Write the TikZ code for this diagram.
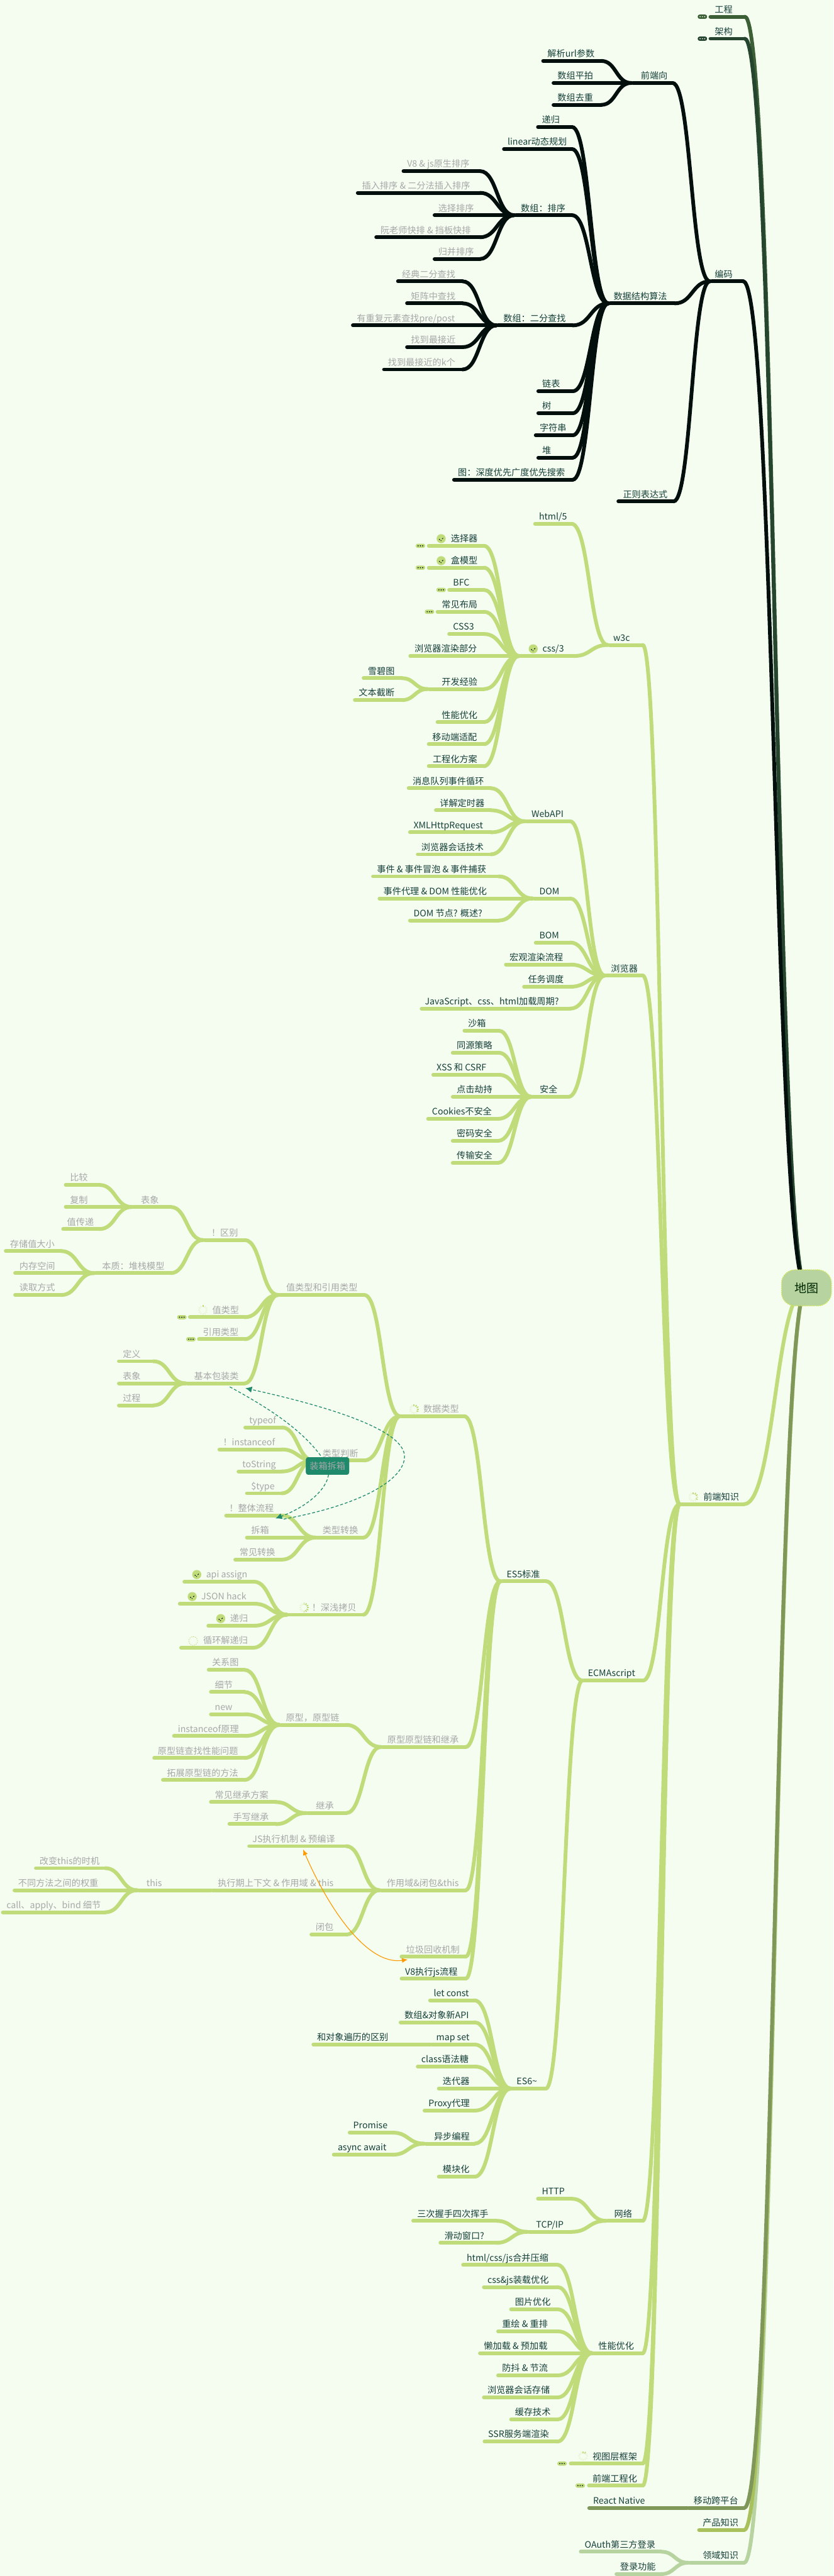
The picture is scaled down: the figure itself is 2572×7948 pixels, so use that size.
\documentclass[tikz,border=0pt]{standalone}
\usepackage{fontspec}
\setmainfont{Noto Sans CJK SC}
\usetikzlibrary{arrows.meta,backgrounds,calc}

\definecolor{mapback}{HTML}{F4FDF0}
\definecolor{inkline}{HTML}{020F0C}
\definecolor{limeline}{HTML}{BFDB7A}
\definecolor{engline}{HTML}{3C5F36}
\definecolor{archline}{HTML}{26452F}
\definecolor{oliveline}{HTML}{7F9758}
\definecolor{productline}{HTML}{A8C15C}
\definecolor{domainline}{HTML}{B6D3A0}
\definecolor{darktext}{HTML}{17403A}
\definecolor{doneText}{HTML}{A8A8A8}
\definecolor{relgreen}{HTML}{1E8A6B}
\definecolor{relorange}{HTML}{FF9900}

\tikzset{
  topic/.style={anchor=south west, inner xsep=0pt, inner ysep=12pt, outer sep=0pt, text depth=0pt,
    font=\fontsize{27.5}{30}\selectfont},
  topicline/.style={line width=11.5pt, line cap=round},
  rootbox/.style={draw=limeline!70!yellow, dashed, line width=3pt, fill=domainline, rounded corners=42pt,
    minimum width=154pt, minimum height=111pt, text=black!85!green, font=\fontsize{37}{40}\selectfont},
  tagbox/.style={fill=relgreen, rounded corners=7pt, minimum width=133pt, minimum height=54pt, inner sep=0pt,
    text=doneText, font=\fontsize{27.5}{30}\selectfont},
  foldpill/.style={rounded corners=6pt, minimum width=29pt, minimum height=13pt, inner sep=0pt},
  donebadge/.style={circle, fill=limeline, minimum size=28pt, inner sep=0pt},
  spinbadge/.style={circle, minimum size=28pt, inner sep=0pt},
  ticklet/.style={line width=2pt, inkline},
  relgreenline/.style={relgreen, line width=2.4pt, dash pattern=on 9pt off 6pt, -{Latex[length=20pt,width=19pt]}},
  relorangeline/.style={relorange, line width=2.2pt, {Latex[length=18pt,width=15pt]}-{Latex[length=18pt,width=15pt]}}
}

\newcommand{\placetopics}[3]{
  \foreach \nm/\xl/\xr/\yy/\tx/\txt in {#3}{
    \pgfmathsetmacro{\bw}{\xr-\xl}
    \pgfmathsetmacro{\gap}{\tx-\xl}
    \node[topic, text=#2, minimum width=\bw pt] (\nm) at (\xl,\yy) {\makebox[\bw pt][l]{\hspace*{\gap pt}\txt}};
    \begin{pgfonlayer}{background}
      \draw[topicline, #1] ([xshift=5.75pt]\nm.south west) -- (\nm.south east);
    \end{pgfonlayer}
  }
}
\newcommand{\linktopics}[2]{
  \begin{pgfonlayer}{background}
    \foreach \ch/\pa in {#2}{
      \draw[topicline, #1] let \p1=(\ch.south east), \p2=(\pa.south west) in
        (\p1) .. controls ({0.5*(\x1+\x2)},\y1) and ({0.5*(\x1+\x2)},\y2) .. (\p2);
    }
  \end{pgfonlayer}
}
\newcommand{\foldmark}[5]{
  \node[foldpill, fill=#4] (#1) at (#2,#3) {};
  \foreach \d in {-7,0,7}{
    \fill[#5] ([xshift=\d pt]#1.center) circle (1.9);
  }
}
\newcommand{\donemark}[3]{
  \node[donebadge] (#1) at (#2,#3) {};
  \draw[ticklet] ([shift={(-6,1)}]#1.center) -- ([shift={(-4,4)}]#1.center);
  \draw[ticklet] ([shift={(-1,5)}]#1.center) -- ([shift={(0,7)}]#1.center);
  \draw[ticklet] ([shift={(3,1)}]#1.center) -- ([shift={(6,-2)}]#1.center);
}
\newcommand{\spinmark}[4]{
  \node[spinbadge] (#1) at (#2,#3) {};
  \foreach \k in {1,...,12}{
    \pgfmathsetmacro{\ang}{-90+30*(\k-1)}
    \pgfmathsetmacro{\op}{\k>#4 ? 0.2 : 1}
    \draw[limeline, line width=3.5pt, opacity=\op] ([shift={(\ang:9)}]#1.center) -- ([shift={(\ang:15)}]#1.center);
  }
}

\begin{document}
\begin{tikzpicture}[x=1pt,y=-1pt]
  \useasboundingbox (0,0) rectangle (2572,7948);
  \begin{pgfonlayer}{background}
    \fill[mapback] (0,0) rectangle (2572,7948);
  \end{pgfonlayer}

  \node[rootbox] (root) at (2488,3973.5) {地图};
  \node[inner sep=0pt, minimum size=0pt] (rootjoin) at (2488,3973.5) {};

  \placetopics{engline}{darktext}{eng/2186/2298/51.5/2205/工程}
  \placetopics{archline}{darktext}{archi/2186/2298/119.4/2205/架构}
  \linktopics{engline}{eng/rootjoin}
  \linktopics{archline}{archi/rootjoin}

  \placetopics{inkline}{darktext}{
    coding/2190/2293/868/2205/编码,
    algo/1877/2082/936/1893/数据结构算法,
    regex/1902/2078/1547/1922/正则表达式,
    feDir/1947/2075/256/1977/前端向,
    parseUrl/1670/1855/188/1689/解析url参数,
    flatArr/1702/1855/256/1720/数组平拍,
    uniqArr/1702/1855/323.5/1720/数组去重,
    recur/1654/1765/392/1672/递归,
    linDp/1549/1765/460/1566/linear动态规划,
    sortArr/1586/1765/664/1607/数组：排序,
    binArr/1531/1767/1004/1553/数组：二分查找,
    list/1655/1767/1207/1673/链表,
    tree/1655/1767/1275/1673/树,
    strs/1647/1767/1343/1665/字符串,
    heap/1655/1767/1412/1673/堆,
    graph/1395/1767/1480/1413/图：深度优先广度优先搜索}
  \placetopics{inkline}{doneText}{
    v8sort/1239/1481/528/1256/V8 \& js原生排序,
    insSort/1098/1481/595/1117/插入排序 \& 二分法插入排序,
    selSort/1335/1481/664/1352/选择排序,
    quickSort/1155/1481/732/1174/阮老师快排 \& 挡板快排,
    mergeSort/1335/1481/799/1352/归并排序,
    binBasic/1222/1427/868/1240/经典二分查找,
    binMatrix/1250/1427/936/1268/矩阵中查找,
    binDup/1083/1427/1004/1101/{有重复元素查找pre/post},
    binNear/1250/1427/1071/1268/找到最接近,
    binNearK/1179/1427/1140/1197/找到最接近的k个}
  \linktopics{inkline}{
    coding/rootjoin, algo/coding, regex/coding, feDir/coding,
    parseUrl/feDir, flatArr/feDir, uniqArr/feDir,
    recur/algo, linDp/algo, sortArr/algo, binArr/algo, list/algo, tree/algo, strs/algo, heap/algo, graph/algo,
    v8sort/sortArr, insSort/sortArr, selSort/sortArr, quickSort/sortArr, mergeSort/sortArr,
    binBasic/binArr, binMatrix/binArr, binDup/binArr, binNear/binArr, binNearK/binArr}

  \placetopics{limeline}{darktext}{
    frontEnd/2097/2295/4641/2170/前端知识,
    w3c/1875/1983/1990/1892/w3c,
    html/1645/1763/1616/1663/{html/5},
    css/1601/1771/2024/1674/{css/3},
    selector/1317/1493/1684/1391/选择器,
    boxModel/1317/1493/1751.5/1391/盒模型,
    bfc/1380/1493/1820/1398/BFC,
    layout/1344/1493/1887.5/1363/常见布局,
    css3/1380/1493/1956/1398/CSS3,
    render/1260/1493/2024/1279/浏览器渲染部分,
    devExp/1319/1493/2126/1363/开发经验,
    sprite/1116/1240/2092.5/1135/雪碧图,
    ellipsis/1089/1240/2160/1107/文本截断,
    cssPerf/1344/1493/2228/1363/性能优化,
    mobile/1317/1493/2296/1334/移动端适配,
    cssEng/1317/1493/2364/1335/工程化方案,
    browser/1866/1983/3010/1885/浏览器,
    webApi/1618/1759/2534/1640/WebAPI,
    evLoop/1255/1514/2432/1273/消息队列事件循环,
    timer/1339/1514/2500/1357/详解定时器,
    xhr/1259/1514/2568/1276/XMLHttpRequest,
    session/1283/1514/2636/1300/浏览器会话技术,
    dom/1643/1759/2772/1664/DOM,
    bubble/1145/1539/2704/1163/事件 \& 事件冒泡 \& 事件捕获,
    delegate/1165/1539/2772/1183/事件代理 \& DOM 性能优化,
    domNode/1259/1539/2840/1276/DOM 节点? 概述?,
    bom/1647/1759/2908/1664/BOM,
    pipeline/1555/1759/2976/1572/宏观渲染流程,
    tasks/1611/1759/3044.5/1629/任务调度,
    loadCycle/1295/1759/3112/1311/JavaScript、css、html加载周期?,
    security/1639/1754/3384/1665/安全,
    sandbox/1427/1539/3180/1444/沙箱,
    sameOrigin/1391/1539/3248/1409/同源策略,
    xss/1331/1539/3316/1347/XSS 和 CSRF,
    clickjack/1391/1536/3384/1409/点击劫持,
    cookie/1315/1536/3452/1333/Cookies不安全,
    pwd/1391/1536/3520/1409/密码安全,
    transfer/1391/1536/3588/1409/传输安全,
    ecma/1797/1984/5185/1814/ECMAscript,
    es5/1544/1685/4879/1563/ES5标准,
    v8run/1233/1437/6105/1250/V8执行js流程,
    es6/1576/1684/6444/1594/ES6\textasciitilde,
    letConst/1321/1464/6172/1338/let const,
    newApi/1230/1464/6239.5/1248/数组\&对象新API,
    mapSet/1327/1464/6308/1346/map set,
    iterDiff/961/1327/6308/978/和对象遍历的区别,
    classSugar/1283/1464/6376/1300/class语法糖,
    iter/1348/1464/6444/1366/迭代器,
    proxy/1304/1464/6512/1322/Proxy代理,
    asyncProg/1308/1464/6614/1339/异步编程,
    promise/1073/1212/6580/1090/Promise,
    asyncAwait/1024/1212/6648/1042/async await,
    module/1348/1464/6716/1366/模块化,
    network/1869/1983/6852/1895/网络,
    http/1654/1764/6784/1672/HTTP,
    tcp/1627/1764/6886/1654/{TCP/IP},
    handshake/1269/1531/6852/1287/三次握手四次挥手,
    slideWin/1353/1531/6920/1371/滑动窗口?,
    perf/1826/1983/7260.5/1846/性能优化,
    merge/1423/1720/6988/1440/{html/css/js合并压缩},
    load/1487/1720/7056.5/1504/css\&js装载优化,
    img/1571/1720/7125/1589/图片优化,
    repaint/1531/1720/7193/1549/重绘 \& 重排,
    lazy/1475/1720/7260.5/1493/懒加载 \& 预加载,
    debounce/1531/1720/7329/1549/防抖 \& 节流,
    storage/1487/1720/7397/1504/浏览器会话存储,
    cacheTech/1571/1720/7465/1589/缓存技术,
    ssr/1489/1720/7533/1506/SSR服务端渲染,
    viewFw/1755/1983/7601/1828/视图层框架,
    feEng/1811/1983/7669/1828/前端工程化}
  \placetopics{limeline}{doneText}{
    dataType/1234/1432/4369.5/1306/数据类型,
    valRef/858/1124/3995.5/883/值类型和引用类型,
    diff/626/755/3826/652/！区别,
    surface/406/527/3724/435/表象,
    cmp/197/307/3656/216/比较,
    copy/197/307/3724/216/复制,
    passVal/189/307/3792/207/值传递,
    nature/290/527/3928/315/本质：堆栈模型,
    storeSize/12/189/3860/31/存储值大小,
    memSpace/41/189/3928/60/内存空间,
    readWay/41/189/3995.5/60/读取方式,
    valType/580/755/4064/655/值类型,
    refType/608/755/4132/626/引用类型,
    wrapper/572/755/4268/599/基本包装类,
    wrapDef/361/473/4200/379/定义,
    wrapLook/361/473/4268/379/表象,
    wrapProc/361/473/4336/379/过程,
    typeCheck/968/1124/4506/995/类型判断,
    typeOf/751/869/4404/769/typeof,
    instOf/671/869/4472/688/！instanceof,
    toStr/730/869/4540/748/toString,
    dollarType/756/869/4607.5/775/\$type,
    typeConv/974/1121/4744/995/类型转换,
    flow/692/869/4676/707/！整体流程,
    unbox/756/869/4744/775/拆箱,
    commonConv/720/869/4812/739/常见转换,
    deepCopy/885/1121/4982/962/！深浅拷贝,
    apiAssign/563/783/4880/636/api assign,
    jsonHack/549/783/4948/621/JSON hack,
    recurCopy/637/783/5016/710/递归,
    loopCopy/553/781/5084/627/循环解递归,
    protoAll/1175/1437/5390/1195/原型原型链和继承,
    proto/862/1068/5322/882/原型，原型链,
    relation/638/754/5152/654/关系图,
    detail/645/754/5220.5/663/细节,
    newOp/645/754/5289/663/new,
    instProto/531/754/5356/549/instanceof原理,
    chainPerf/470/754/5424/487/原型链查找性能问题,
    chainExt/497/754/5492/515/拓展原型链的方法,
    inherit/944/1068/5594/975/继承,
    inhPlan/645/851/5560/663/常见继承方案,
    inhHand/702/851/5628/719/手写继承,
    scopeAll/1171/1437/5832/1193/作用域\&闭包\&this,
    jsExec/763/1068/5696/779/JS执行机制 \& 预编译,
    thisCtx/650/1068/5832/672/执行期上下文 \& 作用域 \& this,
    thisNode/423/640/5832/452/this,
    thisWhen/105/325/5764/122/改变this的时机,
    thisWeight/39/325/5832/56/不同方法之间的权重,
    thisCall/3/325/5900/20/call、apply、bind 细节,
    closure/955/1068/5969/974/闭包,
    gc/1233/1437/6037/1253/垃圾回收机制}
  \linktopics{limeline}{
    frontEnd/rootjoin, w3c/frontEnd, browser/frontEnd, ecma/frontEnd, network/frontEnd, perf/frontEnd, viewFw/frontEnd, feEng/frontEnd,
    html/w3c, css/w3c,
    selector/css, boxModel/css, bfc/css, layout/css, css3/css, render/css, devExp/css, cssPerf/css, mobile/css, cssEng/css,
    sprite/devExp, ellipsis/devExp,
    webApi/browser, dom/browser, bom/browser, pipeline/browser, tasks/browser, loadCycle/browser, security/browser,
    evLoop/webApi, timer/webApi, xhr/webApi, session/webApi,
    bubble/dom, delegate/dom, domNode/dom,
    sandbox/security, sameOrigin/security, xss/security, clickjack/security, cookie/security, pwd/security, transfer/security,
    es5/ecma, es6/ecma,
    dataType/es5, protoAll/es5, scopeAll/es5, gc/es5, v8run/es5,
    valRef/dataType, typeCheck/dataType, typeConv/dataType, deepCopy/dataType,
    diff/valRef, valType/valRef, refType/valRef, wrapper/valRef,
    surface/diff, nature/diff,
    cmp/surface, copy/surface, passVal/surface,
    storeSize/nature, memSpace/nature, readWay/nature,
    wrapDef/wrapper, wrapLook/wrapper, wrapProc/wrapper,
    typeOf/typeCheck, instOf/typeCheck, toStr/typeCheck, dollarType/typeCheck,
    flow/typeConv, unbox/typeConv, commonConv/typeConv,
    apiAssign/deepCopy, jsonHack/deepCopy, recurCopy/deepCopy, loopCopy/deepCopy,
    proto/protoAll, inherit/protoAll,
    relation/proto, detail/proto, newOp/proto, instProto/proto, chainPerf/proto, chainExt/proto,
    inhPlan/inherit, inhHand/inherit,
    jsExec/scopeAll, thisCtx/scopeAll, closure/scopeAll,
    thisNode/thisCtx,
    thisWhen/thisNode, thisWeight/thisNode, thisCall/thisNode,
    letConst/es6, newApi/es6, mapSet/es6, classSugar/es6, iter/es6, proxy/es6, asyncProg/es6, module/es6,
    iterDiff/mapSet,
    promise/asyncProg, asyncAwait/asyncProg,
    http/network, tcp/network,
    handshake/tcp, slideWin/tcp,
    merge/perf, load/perf, img/perf, repaint/perf, lazy/perf, debounce/perf, storage/perf, cacheTech/perf, ssr/perf}

  \placetopics{domainline}{darktext}{
    domain/2123/2296/7907/2168/领域知识,
    oauth/1786/2040/7873/1804/OAuth第三方登录,
    login/1896/2040/7942/1913/登录功能}
  \linktopics{domainline}{domain/rootjoin, oauth/domain, login/domain}
  \placetopics{productline}{darktext}{product/2151/2296/7806/2168/产品知识}
  \linktopics{productline}{product/rootjoin}
  \placetopics{oliveline}{darktext}{
    mobileX/2119/2296/7738/2140/移动跨平台,
    rnative/1812/2119/7738/1830/React Native}
  \linktopics{oliveline}{mobileX/rootjoin, rnative/mobileX}

  \foldmark{foldEng}{2167}{51.5}{engline}{mapback}
  \foldmark{foldArch}{2167}{119.4}{archline}{mapback}
  \foldmark{foldSelector}{1297}{1684}{limeline}{inkline}
  \foldmark{foldBox}{1297}{1751.5}{limeline}{inkline}
  \foldmark{foldBfc}{1361}{1820}{limeline}{inkline}
  \foldmark{foldLayout}{1325}{1887.5}{limeline}{inkline}
  \foldmark{foldVal}{561}{4064}{limeline}{inkline}
  \foldmark{foldRef}{589}{4132}{limeline}{inkline}
  \foldmark{foldView}{1734}{7601}{limeline}{inkline}
  \foldmark{foldEng2}{1790}{7669}{limeline}{inkline}

  \donemark{doneSelector}{1361}{1662}
  \donemark{doneBox}{1361}{1730}
  \donemark{doneCss}{1645}{2002}
  \donemark{doneAssign}{607}{4858}
  \donemark{doneJson}{593}{4926}
  \donemark{doneRecur}{681}{4994}

  \spinmark{spinFront}{2139}{4619}{5}
  \spinmark{spinData}{1277.5}{4348}{5}
  \spinmark{spinVal}{626}{4042}{1}
  \spinmark{spinDeep}{938}{4960}{7}
  \spinmark{spinView}{1799}{7578}{2}
  \node[circle, draw=limeline, dashed, line width=1.5pt, minimum size=27pt, inner sep=0pt] (loopmark) at (596,5063) {};

  \coordinate (wrapOut) at (709,4279);
  \coordinate (flowIn) at (850,4685);
  \coordinate (flowOut) at (875,4687);
  \coordinate (wrapIn) at (757,4283);
  \coordinate (gcIn) at (1258,6046);
  \coordinate (execIn) at (935,5706);
  \node[tagbox] (boxing) at (1010.5,4523) {};
  \draw[relgreenline] (wrapOut) .. controls (830,4345) and (950,4420) .. (boxing.center)
    .. controls (1030,4570) and (970,4640) .. (flowIn);
  \draw[relgreenline] (flowOut) .. controls (1130,4640) and (1248,4560) .. (1248,4494)
    .. controls (1248,4420) and (1060,4350) .. (wrapIn);
  \draw[relorangeline] (execIn) .. controls (1010,5880) and (1130,6065) .. (gcIn);
  \node[tagbox] at (boxing) {装箱拆箱};
\end{tikzpicture}
\end{document}
